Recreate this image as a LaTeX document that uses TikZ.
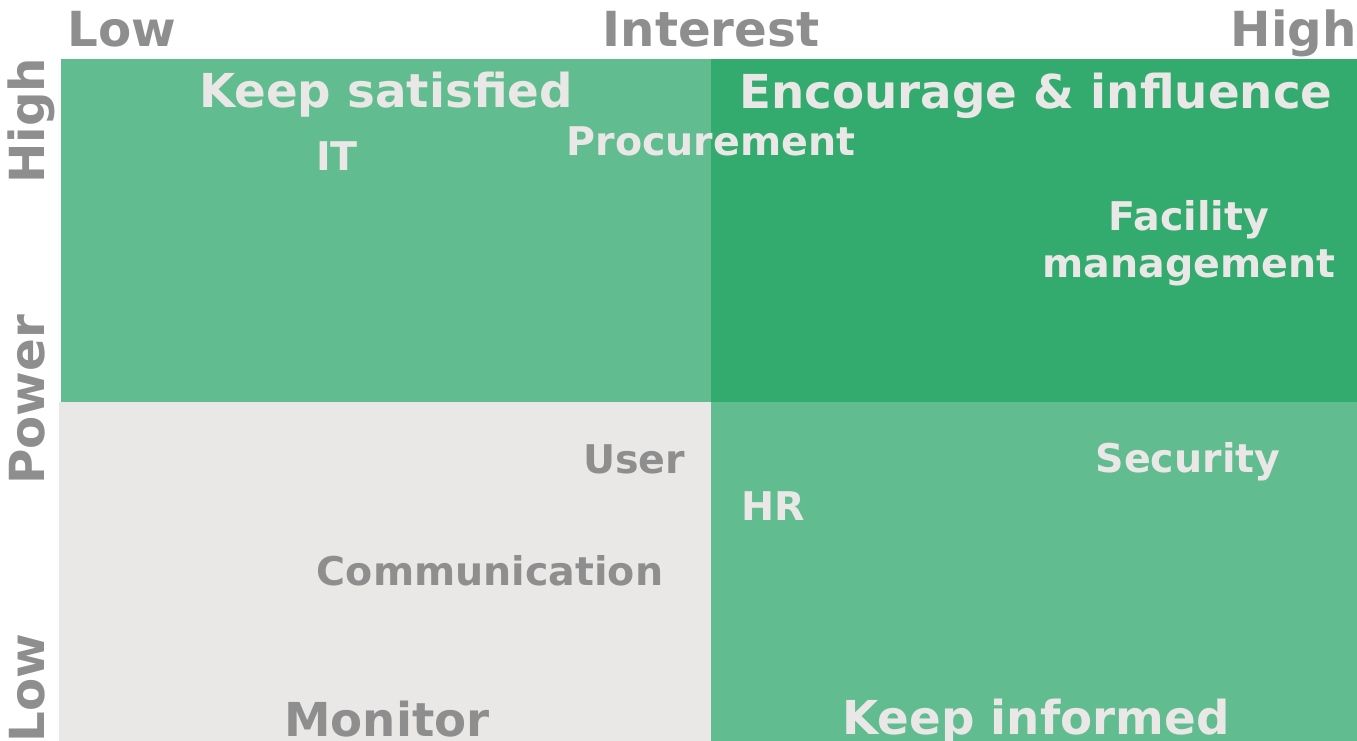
\documentclass[tikz,border=0pt]{standalone}
\usepackage{fontspec}
\setmainfont{DejaVu Sans}
\usetikzlibrary{positioning}

\definecolor{lightgreen}{HTML}{61BD90}
\definecolor{darkgreen}{HTML}{34AB6E}
\definecolor{paleback}{HTML}{EAE8E6}
\definecolor{axisgrey}{HTML}{8F8E8F}

\begin{document}
\begin{tikzpicture}[x=0.02cm, y=-0.02cm, font=\bfseries,
	axislabel/.style={text=axisgrey, font=\fontsize{27.5}{30}\selectfont\bfseries, inner sep=0pt, anchor=base},
	quadlabel/.style={font=\fontsize{26.6}{30}\selectfont\bfseries, inner sep=0pt, anchor=base},
	stakeholder/.style={font=\fontsize{22.5}{26.6}\selectfont\bfseries, inner sep=0pt, anchor=base, align=center}]
	\useasboundingbox (0,0) rectangle (1357,741);
	% quadrants
	\fill[lightgreen] (61,59) rectangle (711,402);
	\fill[darkgreen] (711,59) rectangle (1357,402);
	\fill[paleback] (59,402) rectangle (711,741);
	\fill[lightgreen] (711,402) rectangle (1357,741);
	% axes
	\node[axislabel] (intlow) at (122,46) {Low};
	\node[axislabel] (interest) at (711,46) {Interest};
	\node[axislabel, anchor=base east] (inthigh) at (1357,46) {High};
	\node[axislabel, rotate=90] (powhigh) at (45,121) {High};
	\node[axislabel, rotate=90] (power) at (45,400) {Power};
	\node[axislabel, rotate=90] (powlow) at (45,688) {Low};
	% quadrant titles
	\node[quadlabel, text=paleback] (satisfied) at (386,107) {Keep satisfied};
	\node[quadlabel, text=paleback] (encourage) at (1036,108) {Encourage \& influence};
	\node[quadlabel, text=axisgrey] (monitor) at (387,736) {Monitor};
	\node[quadlabel, text=paleback] (informed) at (1036,734) {Keep informed};
	% stakeholders
	\node[stakeholder, text=paleback] (it) at (337,170) {IT};
	\node[stakeholder, text=paleback] (procurement) at (711,155) {Procurement};
	\node[stakeholder, text=paleback] (facility) at (1189,277) {Facility\\management};
	\node[stakeholder, text=axisgrey] (user) at (634,473) {User};
	\node[stakeholder, text=paleback] (hr) at (773,520) {HR};
	\node[stakeholder, text=axisgrey] (communication) at (490,585) {Communication};
	\node[stakeholder, text=paleback] (security) at (1188,472) {Security};
\end{tikzpicture}
\end{document}
